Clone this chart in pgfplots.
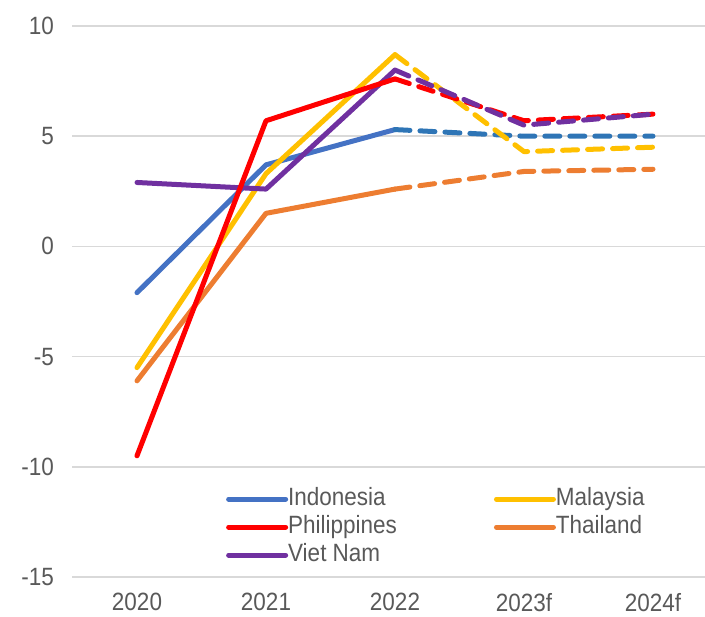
\documentclass[border=0pt]{standalone}
\usepackage{pgfplots}
\pgfplotsset{compat=1.18}
\usepackage{fontspec}
\setmainfont{Liberation Sans}[FakeStretch=0.9]

\definecolor{txtgray}{HTML}{595959}
\definecolor{gridgray}{HTML}{D9D9D9}
\definecolor{cIDN}{HTML}{4472C4}
\definecolor{cIDNf}{HTML}{2E75B6}
\definecolor{cMYS}{HTML}{FFC000}
\definecolor{cPHL}{HTML}{FF0000}
\definecolor{cTHA}{HTML}{ED7D31}
\definecolor{cVNM}{HTML}{7030A0}

% GDP growth, actual (2020-2022) and forecast (2022-2024f); x = 0..4
\pgfplotstableread{
x  IDN  MYS  PHL  THA  VNM
0  -2.1 -5.5 -9.5 -6.1 2.9
1  3.7  3.3  5.7  1.5  2.6
2  5.3  8.7  7.6  2.6  8.0
}\actual
\pgfplotstableread{
x  IDN  MYS  PHL  THA  VNM
2  5.3  8.7  7.6  2.6  8.0
3  5.0  4.3  5.7  3.4  5.5
4  5.0  4.5  6.0  3.5  6.0
}\forecast

\begin{document}
\begin{tikzpicture}[x=1pt,y=1pt]
\path[use as bounding box] (0,0) rectangle (705,617);
\begin{axis}[
  at={(72.5pt,40pt)}, anchor=south west,
  scale only axis, width=645pt, height=551pt,
  xmin=-0.5, xmax=4.5, ymin=-15, ymax=10,
  axis line style={draw=none},
  major tick length=0pt,
  xtick={0,1,2,3,4},
  xticklabels={2020,2021,2022,2023f,2024f},
  ytick={-15,-10,-5,0,5,10},
  yticklabels={-15,-10,-5,0,5,10},
  ymajorgrids,
  grid style={gridgray, line width=1.5pt},
  tick label style={font=\fontsize{25}{29}\selectfont, text=txtgray},
  yticklabel style={xshift=-15pt},
  xticklabel style={inner sep=0pt, yshift=-16pt},
  clip=false,
  every axis plot/.append style={line width=5pt, line join=round, line cap=round},
  legend image code/.code={\path (0pt,0pt) -- (57pt,0pt);
    \draw[#1] (2.5pt,0pt) -- (54.5pt,0pt);},
  legend columns=2,
  legend cell align=left,
  legend style={at={(rel axis cs:0.2379,0.1634)}, anchor=north west,
    draw=none, fill=none, inner sep=0pt,
    font=\fontsize{25}{29}\selectfont, text=txtgray,
    nodes={inner sep=0pt, text height=18pt, text depth=6pt},
    row sep=4pt,
    /tikz/every odd column/.append style={column sep=0pt},
    /tikz/every even column/.append style={column sep=97pt}},
]
% solid: actual
\addplot[cIDN, forget plot] table[x=x, y=IDN] {\actual};
\addplot[cMYS, forget plot] table[x=x, y=MYS] {\actual};
\addplot[cTHA, forget plot] table[x=x, y=THA] {\actual};
\addplot[cVNM, forget plot] table[x=x, y=VNM] {\actual};
\addplot[cPHL, forget plot] table[x=x, y=PHL] {\actual};
% dashed: forecast
\addplot[cIDNf, dash pattern=on 15pt off 10pt, forget plot] table[x=x, y=IDN] {\forecast};
\addplot[cMYS, dash pattern=on 15pt off 10pt, forget plot] table[x=x, y=MYS] {\forecast};
\addplot[cTHA, dash pattern=on 15pt off 10pt, forget plot] table[x=x, y=THA] {\forecast};
\addplot[cPHL, dash pattern=on 15pt off 10pt, forget plot] table[x=x, y=PHL] {\forecast};
\addplot[cVNM, dash pattern=on 15pt off 10pt, forget plot] table[x=x, y=VNM] {\forecast};
% legend
\addlegendimage{cIDN, line width=5pt, line cap=round}
\addlegendentry{Indonesia}
\addlegendimage{cMYS, line width=5pt, line cap=round}
\addlegendentry{Malaysia}
\addlegendimage{cPHL, line width=5pt, line cap=round}
\addlegendentry{Philippines}
\addlegendimage{cTHA, line width=5pt, line cap=round}
\addlegendentry{Thailand}
\addlegendimage{cVNM, line width=5pt, line cap=round}
\addlegendentry{Viet Nam}
\end{axis}
\end{tikzpicture}
\end{document}
